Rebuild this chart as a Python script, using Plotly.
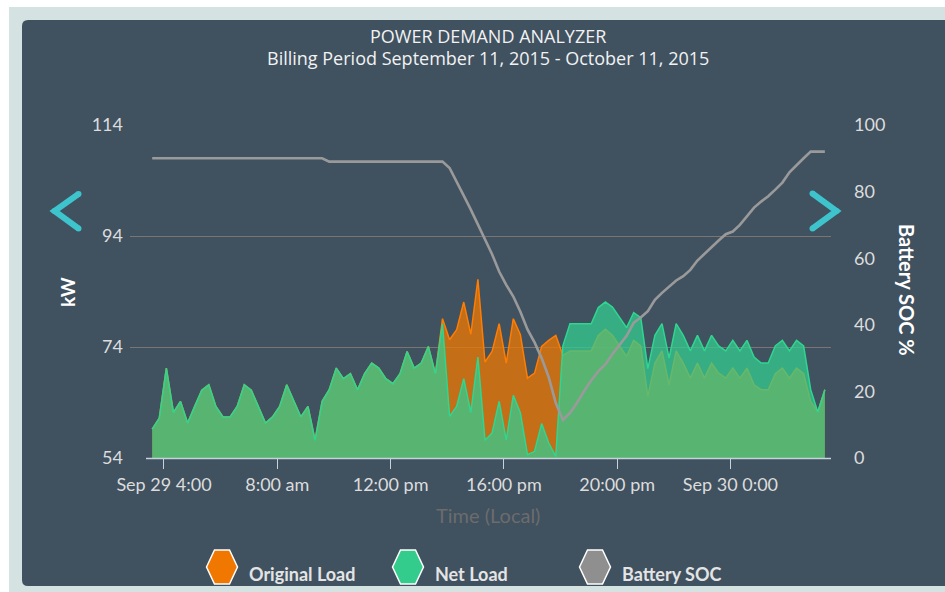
import plotly.graph_objects as go
import pandas as pd

# ---------------- data ----------------
start_time = "2015-09-29 03:35"
n_points = 96
times = pd.date_range(start_time, periods=n_points, freq="15min")

net_load = [
    59.2, 61.2, 70.2, 62.2, 64.2, 60.3, 63.3, 66.2, 67.2, 63.3,
    61.4, 61.4, 63.3, 67.2, 66.2, 63.3, 60.3, 61.4, 63.3, 67.2,
    64.2, 61.4, 63.3, 57.2, 64.2, 66.3, 70.2, 68.3, 69.2, 66.3,
    69.2, 71.1, 70.2, 68.3, 67.4, 69.2, 73.2, 70.2, 71.1, 74.1,
    69.2, 78.2, 61.5, 63.3, 68.3, 62.2, 72.2, 57.2, 58.5, 64.2,
    57.2, 65.3, 62.1, 54.6, 55.2, 60.2, 56.7, 54.3, 74.2, 78.2,
    78.2, 78.2, 78.2, 81.1, 82.1, 81.2, 79.4, 77.5, 80.2, 79.3,
    70.1, 76.1, 78.2, 72.0, 78.2, 76.1, 73.3, 76.1, 73.3, 76.1,
    74.2, 73.3, 75.2, 73.3, 75.2, 72.2, 71.1, 71.1, 74.2, 75.2,
    73.3, 75.2, 74.2, 66.3, 62.3, 66.3,
]

original_load = [
    59.2, 61.2, 70.2, 62.2, 64.2, 60.3, 63.3, 66.2, 67.2, 63.3,
    61.4, 61.4, 63.3, 67.2, 66.2, 63.3, 60.3, 61.4, 63.3, 67.2,
    64.2, 61.4, 63.3, 57.2, 64.2, 66.3, 70.2, 68.3, 69.2, 66.3,
    69.2, 71.1, 70.2, 68.3, 67.4, 69.2, 73.2, 70.2, 71.1, 74.1,
    69.2, 79.1, 75.3, 77.1, 82.1, 76.3, 86.2, 71.3, 73.2, 78.2,
    71.1, 79.1, 76.2, 68.4, 69.3, 74.1, 75.2, 76.1, 72.5, 73.3,
    73.3, 73.3, 73.3, 76.1, 77.2, 76.1, 74.2, 72.3, 75.2, 74.2,
    65.1, 71.1, 73.3, 67.2, 73.3, 71.1, 68.4, 71.1, 68.4, 71.1,
    69.3, 68.4, 70.2, 68.4, 70.2, 67.2, 66.3, 66.3, 69.2, 70.2,
    68.4, 70.2, 69.2, 64.2, 62.3, 66.3,
]

battery_soc = [
    90.0, 90.0, 90.0, 90.0, 90.0, 90.0, 90.0, 90.0, 90.0, 90.0,
    90.0, 90.0, 90.0, 90.0, 90.0, 90.0, 90.0, 90.0, 90.0, 90.0,
    90.0, 90.0, 90.0, 90.0, 90.0, 89.0, 89.0, 89.0, 89.0, 89.0,
    89.0, 89.0, 89.0, 89.0, 89.0, 89.0, 89.0, 89.0, 89.0, 89.0,
    89.0, 89.0, 87.1, 83.1, 78.8, 74.6, 70.2, 65.7, 61.2, 56.0,
    52.0, 48.5, 43.9, 38.6, 34.7, 30.0, 24.3, 16.5, 11.4, 13.5,
    16.6, 20.1, 23.3, 26.0, 28.1, 31.2, 34.0, 36.7, 40.6, 42.2,
    44.1, 47.5, 49.6, 51.6, 53.3, 54.6, 56.5, 59.3, 61.4, 63.3,
    65.3, 67.2, 68.0, 70.0, 72.5, 75.2, 77.0, 78.6, 80.6, 82.7,
    85.8, 88.0, 90.0, 92.0, 92.0, 92.0,
]

x_tick_values = ["2015-09-29 04:00", "2015-09-29 08:00", "2015-09-29 12:00",
                 "2015-09-29 16:00", "2015-09-29 20:00", "2015-09-30 00:00"]
x_tick_labels = ["Sep 29 4:00", "8:00 am", "12:00 pm", "16:00 pm", "20:00 pm", "Sep 30 0:00"]
kw_ticks = [54, 74, 94, 114]
soc_ticks = [0, 20, 40, 60, 80, 100]
series_names = ["Original Load", "Net Load", "Battery SOC"]

# ---------------- layout helpers ----------------
W, H = 945, 592
ML, MR, MT, MB = 130, 114, 125, 134
PW = W - ML - MR
PH = H - MT - MB


def px(x):
    return (x - ML) / PW


def py(y):
    return (H - MB - y) / PH


PANEL = "#405160"
ORANGE = "#f07800"
GREEN = "#34cc8c"
GRAY = "#8f8f8f"
CYAN = "#3ec4cc"
LABEL = "#dcdcdc"
FONT = "Lato, Open Sans, sans-serif"

fig = go.Figure()

fig.add_trace(go.Scatter(
    x=times, y=original_load, name=series_names[0], mode="lines",
    line=dict(color="#ff7d00", width=1.5), fill="tozeroy",
    fillcolor="rgba(240,120,0,0.75)", yaxis="y",
))
fig.add_trace(go.Scatter(
    x=times, y=net_load, name=series_names[1], mode="lines",
    line=dict(color="#2fd690", width=1.5), fill="tozeroy",
    fillcolor="rgba(51,204,143,0.75)", yaxis="y",
))
fig.add_trace(go.Scatter(
    x=times, y=battery_soc, name=series_names[2], mode="lines",
    line=dict(color="#9a9a9a", width=2.6), yaxis="y2",
))

x_range = [times[0] - pd.Timedelta(minutes=47), times[-1] + pd.Timedelta(minutes=13)]

shapes = []
# background frame
shapes.append(dict(type="rect", xref="paper", yref="paper", layer="below",
                   x0=px(9), x1=px(960), y0=py(7), y1=py(600),
                   fillcolor="#d5e2e2", line=dict(width=0)))
r = 6
panel_path = (
    f"M {px(22 + r)},{py(20)} L {px(960)},{py(20)} L {px(960)},{py(586)} "
    f"L {px(22 + r)},{py(586)} Q {px(22)},{py(586)} {px(22)},{py(586 - r)} "
    f"L {px(22)},{py(20 + r)} Q {px(22)},{py(20)} {px(22 + r)},{py(20)} Z"
)
shapes.append(dict(type="path", xref="paper", yref="paper", layer="below",
                   path=panel_path, fillcolor=PANEL, line=dict(width=0)))
# x axis line
shapes.append(dict(type="line", xref="paper", yref="paper", layer="above",
                   x0=px(146), x1=px(831), y0=py(458.5), y1=py(458.5),
                   line=dict(color="#c8d2dc", width=1.5)))

# chevrons
def chevron(points):
    (x1, y1), (x2, y2), (x3, y3) = points
    out = [dict(type="path", xref="paper", yref="paper", layer="above",
                path=f"M {px(x1)},{py(y1)} L {px(x2)},{py(y2)} L {px(x3)},{py(y3)}",
                line=dict(color=CYAN, width=6))]
    for (cx, cy) in points:
        out.append(dict(type="circle", xref="paper", yref="paper", layer="above",
                        x0=px(cx - 3), x1=px(cx + 3), y0=py(cy - 3), y1=py(cy + 3),
                        fillcolor=CYAN, line=dict(width=0)))
    return out

shapes += chevron([(78.5, 194), (54.5, 211), (78.5, 228.5)])
shapes += chevron([(812.5, 193.5), (836.5, 211), (812.5, 228.5)])

# legend hexagons
def hexagon(cx, cy, color):
    pts = [(-15.5, 0), (-7.5, -17), (7.5, -17), (15.5, 0), (7.5, 17), (-7.5, 17)]
    path = "M " + " L ".join(f"{px(cx + dx)},{py(cy + dy)}" for dx, dy in pts) + " Z"
    return dict(type="path", xref="paper", yref="paper", layer="above", path=path,
                fillcolor=color, line=dict(color="white", width=1.5))

legend_items = [(222, 247, ORANGE), (408, 433, GREEN), (595, 620, GRAY)]
for (hx, tx, col) in legend_items:
    shapes.append(hexagon(hx, 567, col))

annotations = [
    dict(text="POWER DEMAND ANALYZER", x=px(488), y=py(36), xref="paper", yref="paper",
         showarrow=False, xanchor="center", yanchor="middle",
         font=dict(family="Open Sans", size=18, color="#f2f2f2")),
    dict(text="Billing Period September 11, 2015 - October 11, 2015", x=px(488), y=py(58),
         xref="paper", yref="paper", showarrow=False, xanchor="center", yanchor="middle",
         font=dict(family="Open Sans", size=18, color="#f2f2f2")),
    dict(text="<b>kW</b>", x=px(67), y=py(292), xref="paper", yref="paper", showarrow=False,
         textangle=-90, xanchor="center", yanchor="middle",
         font=dict(family=FONT, size=19, color="white")),
    dict(text="<b>Battery SOC %</b>", x=px(907), y=py(290), xref="paper", yref="paper",
         showarrow=False, textangle=90, xanchor="center", yanchor="middle",
         font=dict(family=FONT, size=20, color="white")),
    dict(text="Time (Local)", x=px(488), y=py(515), xref="paper", yref="paper",
         showarrow=False, xanchor="center", yanchor="middle",
         font=dict(family=FONT, size=20, color="#6c6c6c")),
]
for name, (hx, tx, col) in zip(series_names, legend_items):
    annotations.append(dict(text=f"<b>{name}</b>", x=px(tx), y=py(574), xref="paper", yref="paper",
                            showarrow=False, xanchor="left", yanchor="middle",
                            font=dict(family=FONT, size=18, color="#e4e4e4")))

fig.update_layout(
    width=W, height=H,
    margin=dict(l=ML, r=MR, t=MT, b=MB, pad=0, autoexpand=False),
    paper_bgcolor="white",
    plot_bgcolor="rgba(0,0,0,0)",
    showlegend=False,
    shapes=shapes,
    annotations=annotations,
    xaxis=dict(
        type="date", range=x_range, tickvals=x_tick_values, ticktext=x_tick_labels,
        showgrid=False, zeroline=False, showline=False,
        ticks="outside", ticklen=10, tickcolor="#c8d2dc", tickwidth=1,
        tickfont=dict(family=FONT, size=18, color=LABEL),
    ),
    yaxis=dict(
        range=[54, 114], tickvals=kw_ticks, showgrid=True, gridcolor="#7a7572",
        gridwidth=1, zeroline=False, showline=False, ticks="",
        ticklabelstandoff=6,
        tickfont=dict(family=FONT, size=18, color=LABEL),
    ),
    yaxis2=dict(
        range=[0, 100], tickvals=soc_ticks, overlaying="y", side="right",
        showgrid=False, zeroline=False, showline=False, ticks="",
        ticklabelstandoff=22,
        tickfont=dict(family=FONT, size=18, color=LABEL),
    ),
)

fig.write_html("out.html", config={"displayModeBar": False},
               post_script="document.body.style.margin='0';")
